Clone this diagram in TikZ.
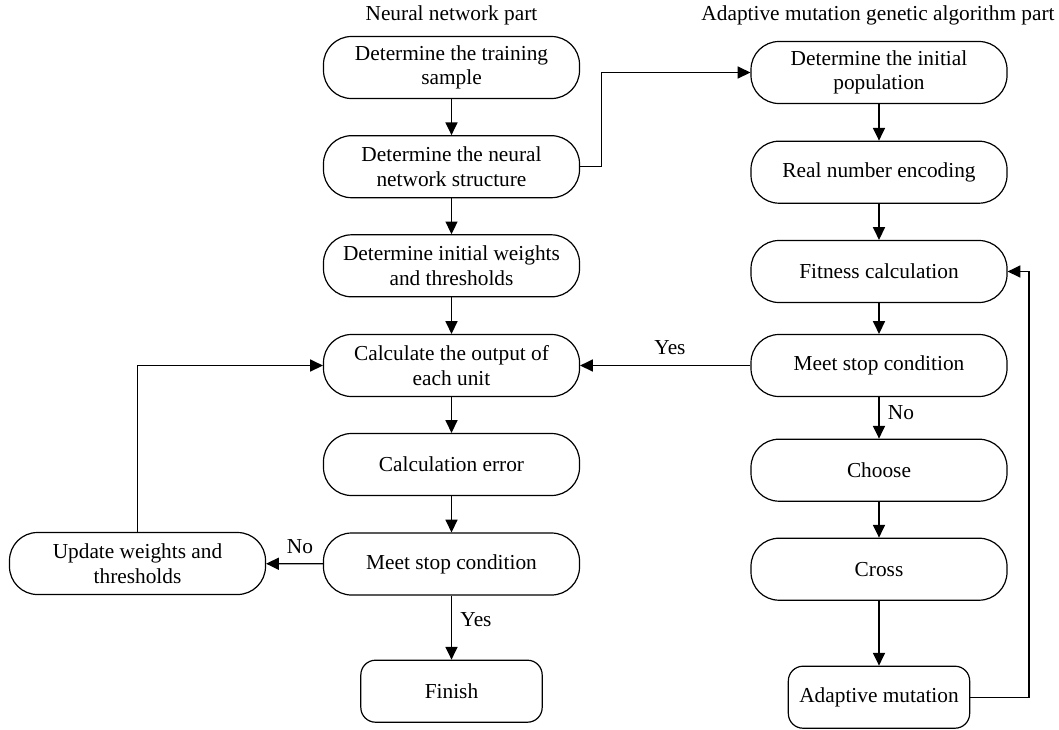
\documentclass[tikz,border=0pt]{standalone}
\usepackage{fontspec}
\setmainfont{Liberation Serif}
\usetikzlibrary{arrows.meta}
\begin{document}
\begin{tikzpicture}[x=0.75pt,y=-0.75pt,
  txt/.style={font=\fontsize{16}{18.5}\selectfont},
  box/.style={txt,draw,line width=0.9pt,rounded corners=21pt,minimum width=192pt,minimum height=46.5pt,inner sep=0pt,align=center},
  sbox/.style={box,rounded corners=11pt,minimum width=136pt},
  lbl/.style={txt,inner sep=0pt},
  arr/.style={line width=1pt,-{Triangle[length=9.5pt,width=9pt]}}]
\useasboundingbox (0,0) rectangle (1059,729);

\node[lbl] (t1) at (451.5,15) {Neural network part};
\node[lbl] (t2) at (878,15) {Adaptive mutation genetic algorithm part};

% left column
\node[box] (b1) at (451.5,67.5) {Determine the training\\sample};
\node[box] (b2) at (451.5,166.7) {Determine the neural\\network structure};
\node[box] (b3) at (451.5,265.8) {Determine initial weights\\and thresholds};
\node[box] (b4) at (451.5,365.5) {Calculate the output of\\each unit};
\node[box] (b5) at (451.5,464.5) {Calculation error};
\node[box] (b6) at (451.5,564) {Meet stop condition};
\node[sbox] (fin) at (451.5,691.2) {Finish};
\node[box] (upd) at (137.5,563.5) {Update weights and\\thresholds};

% right column
\node[box] (r1) at (879,72.5) {Determine the initial\\population};
\node[box] (r2) at (879,172.2) {Real number encoding};
\node[box] (r3) at (879,271.5) {Fitness calculation};
\node[box] (r4) at (879,365.5) {Meet stop condition};
\node[box] (r5) at (879,470.2) {Choose};
\node[box] (r6) at (879,569.2) {Cross};
\node[sbox] (r7) at (879,697.2) {Adaptive mutation};

\coordinate (c1) at (601.7,166.7);
\coordinate (c2) at (601.7,72.5);
\coordinate (c3) at (137.5,365.5);
\coordinate (c4) at (1029,697.2);
\coordinate (c5) at (1029,271.5);

\draw[arr] (b1) -- (b2);
\draw[arr] (b2) -- (b3);
\draw[arr] (b3) -- (b4);
\draw[arr] (b4) -- (b5);
\draw[arr] (b5) -- (b6);
\draw[arr] (b6) -- (fin);
\draw[arr] (b6) -- (upd);
\draw[arr] (upd.north) -- (c3) -- (b4.west);
\draw[arr] (b2.east) -- (c1) -- (c2) -- (r1.west);

\draw[arr] (r1) -- (r2);
\draw[arr] (r2) -- (r3);
\draw[arr] (r3) -- (r4);
\draw[arr] (r4) -- (r5);
\draw[arr] (r5) -- (r6);
\draw[arr] (r6) -- (r7);
\draw[arr] (r4.west) -- (b4.east);
\draw[arr] (r7.east) -- (c4) -- (c5) -- (r3.east);

\node[lbl] (yes1) at (476,620) {Yes};
\node[lbl] (no1) at (300,547) {No};
\node[lbl] (yes2) at (670,348) {Yes};
\node[lbl] (no2) at (901,413) {No};
\end{tikzpicture}
\end{document}
